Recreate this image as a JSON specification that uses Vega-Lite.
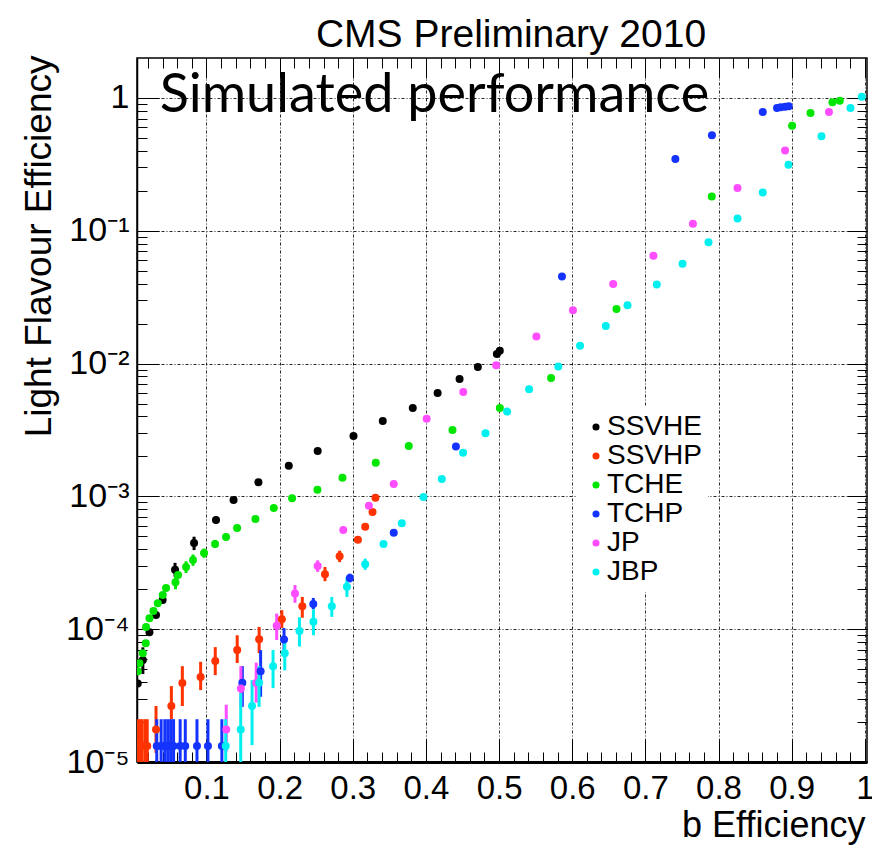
{
  "$schema": "https://vega.github.io/schema/vega-lite/v6.json",
  "width": 730,
  "height": 704,
  "autosize": {"type": "none"},
  "padding": {"left": 137, "top": 58, "right": 5, "bottom": 83},
  "background": "white",
  "title": {"text": "CMS Preliminary 2010", "font": "Liberation Sans", "fontSize": 39, "fontWeight": "normal", "anchor": "middle", "dx": 9, "baseline": "alphabetic", "offset": -31, "color": "#000"},
  "config": {"view": {"stroke": "#000", "strokeWidth": 1.5}},
  "data": {"values": [
    {"s":"SSVHE","x":0.006,"y":3.9e-5},
    {"s":"SSVHE","x":0.013,"y":5.85e-5,"lo":4.6e-5,"hi":7.3e-5},
    {"s":"SSVHE","x":0.022,"y":9.5e-5},
    {"s":"SSVHE","x":0.031,"y":1.28e-4},
    {"s":"SSVHE","x":0.040,"y":1.66e-4},
    {"s":"SSVHE","x":0.057,"y":2.8e-4,"lo":2.48e-4,"hi":3.16e-4},
    {"s":"SSVHE","x":0.083,"y":4.45e-4,"lo":3.94e-4,"hi":4.97e-4},
    {"s":"SSVHE","x":0.113,"y":6.64e-4},
    {"s":"SSVHE","x":0.137,"y":9.4e-4},
    {"s":"SSVHE","x":0.171,"y":1.28e-3},
    {"s":"SSVHE","x":0.2125,"y":1.7e-3},
    {"s":"SSVHE","x":0.252,"y":2.2e-3},
    {"s":"SSVHE","x":0.301,"y":2.85e-3},
    {"s":"SSVHE","x":0.341,"y":3.7e-3},
    {"s":"SSVHE","x":0.382,"y":4.63e-3},
    {"s":"SSVHE","x":0.416,"y":6.0e-3},
    {"s":"SSVHE","x":0.446,"y":7.66e-3},
    {"s":"SSVHE","x":0.471,"y":9.43e-3},
    {"s":"SSVHE","x":0.497,"y":1.18e-2},
    {"s":"SSVHE","x":0.501,"y":1.25e-2},
    {"s":"SSVHP","x":0.006,"y":1.32e-5,"lo":1e-5,"hi":2.1e-5},
    {"s":"SSVHP","x":0.009,"y":1.32e-5,"lo":1e-5,"hi":2.1e-5},
    {"s":"SSVHP","x":0.012,"y":1.32e-5,"lo":1e-5,"hi":2.1e-5},
    {"s":"SSVHP","x":0.016,"y":1.32e-5,"lo":1e-5,"hi":2.1e-5},
    {"s":"SSVHP","x":0.019,"y":1.32e-5,"lo":1e-5,"hi":2.1e-5},
    {"s":"SSVHP","x":0.031,"y":1.76e-5,"lo":1.17e-5,"hi":2.64e-5},
    {"s":"SSVHP","x":0.052,"y":2.64e-5,"lo":2.09e-5,"hi":3.73e-5},
    {"s":"SSVHP","x":0.067,"y":3.93e-5,"lo":2.64e-5,"hi":5.27e-5},
    {"s":"SSVHP","x":0.092,"y":4.36e-5,"lo":3.48e-5,"hi":5.68e-5},
    {"s":"SSVHP","x":0.112,"y":5.75e-5,"lo":4.51e-5,"hi":7.33e-5},
    {"s":"SSVHP","x":0.142,"y":6.96e-5,"lo":5.56e-5,"hi":9.0e-5},
    {"s":"SSVHP","x":0.172,"y":8.41e-5,"lo":6.6e-5,"hi":1.04e-4},
    {"s":"SSVHP","x":0.203,"y":1.19e-4,"lo":1.02e-4,"hi":1.39e-4},
    {"s":"SSVHP","x":0.231,"y":1.49e-4,"lo":1.22e-4,"hi":1.75e-4},
    {"s":"SSVHP","x":0.262,"y":2.59e-4,"lo":2.3e-4,"hi":2.94e-4},
    {"s":"SSVHP","x":0.282,"y":3.54e-4,"lo":3.2e-4,"hi":3.9e-4},
    {"s":"SSVHP","x":0.307,"y":4.72e-4},
    {"s":"SSVHP","x":0.317,"y":5.91e-4},
    {"s":"SSVHP","x":0.327,"y":7.63e-4},
    {"s":"SSVHP","x":0.331,"y":9.77e-4},
    {"s":"TCHE","x":0.006,"y":4.83e-5},
    {"s":"TCHE","x":0.0083,"y":5.55e-5},
    {"s":"TCHE","x":0.0129,"y":6.6e-5},
    {"s":"TCHE","x":0.017,"y":7.85e-5},
    {"s":"TCHE","x":0.0174,"y":1.04e-4},
    {"s":"TCHE","x":0.022,"y":1.21e-4},
    {"s":"TCHE","x":0.0275,"y":1.37e-4},
    {"s":"TCHE","x":0.0334,"y":1.57e-4},
    {"s":"TCHE","x":0.0402,"y":1.81e-4},
    {"s":"TCHE","x":0.0447,"y":2.04e-4},
    {"s":"TCHE","x":0.0576,"y":2.26e-4,"lo":2.0e-4,"hi":2.5e-4},
    {"s":"TCHE","x":0.0611,"y":2.56e-4},
    {"s":"TCHE","x":0.0721,"y":2.94e-4,"lo":2.65e-4,"hi":3.25e-4},
    {"s":"TCHE","x":0.0816,"y":3.32e-4,"lo":3.0e-4,"hi":3.65e-4},
    {"s":"TCHE","x":0.0967,"y":3.75e-4,"lo":3.45e-4,"hi":4.05e-4},
    {"s":"TCHE","x":0.1117,"y":4.38e-4,"lo":4.1e-4,"hi":4.7e-4},
    {"s":"TCHE","x":0.1267,"y":4.94e-4},
    {"s":"TCHE","x":0.1418,"y":5.78e-4},
    {"s":"TCHE","x":0.1669,"y":6.76e-4},
    {"s":"TCHE","x":0.192,"y":8.18e-4},
    {"s":"TCHE","x":0.217,"y":9.68e-4},
    {"s":"TCHE","x":0.2517,"y":1.12e-3},
    {"s":"TCHE","x":0.2859,"y":1.38e-3},
    {"s":"TCHE","x":0.3314,"y":1.79e-3},
    {"s":"TCHE","x":0.3765,"y":2.4e-3},
    {"s":"TCHE","x":0.4363,"y":3.16e-3},
    {"s":"TCHE","x":0.501,"y":4.63e-3},
    {"s":"TCHE","x":0.5711,"y":7.8e-3},
    {"s":"TCHE","x":0.6605,"y":2.58e-2},
    {"s":"TCHE","x":0.7908,"y":0.181},
    {"s":"TCHE","x":0.9006,"y":0.618},
    {"s":"TCHE","x":0.9258,"y":0.77},
    {"s":"TCHE","x":0.9558,"y":0.927},
    {"s":"TCHE","x":0.9658,"y":0.955},
    {"s":"TCHP","x":0.032,"y":1.32e-5,"lo":1e-5,"hi":2.1e-5},
    {"s":"TCHP","x":0.038,"y":1.32e-5,"lo":1e-5,"hi":2.1e-5},
    {"s":"TCHP","x":0.043,"y":1.32e-5,"lo":1e-5,"hi":2.1e-5},
    {"s":"TCHP","x":0.047,"y":1.32e-5,"lo":1e-5,"hi":2.1e-5},
    {"s":"TCHP","x":0.051,"y":1.32e-5,"lo":1e-5,"hi":2.1e-5},
    {"s":"TCHP","x":0.055,"y":1.32e-5,"lo":1e-5,"hi":2.1e-5},
    {"s":"TCHP","x":0.064,"y":1.32e-5,"lo":1e-5,"hi":2.1e-5},
    {"s":"TCHP","x":0.071,"y":1.32e-5,"lo":1e-5,"hi":2.1e-5},
    {"s":"TCHP","x":0.087,"y":1.32e-5,"lo":1e-5,"hi":2.1e-5},
    {"s":"TCHP","x":0.102,"y":1.32e-5,"lo":1e-5,"hi":2.1e-5},
    {"s":"TCHP","x":0.121,"y":1.32e-5,"lo":1e-5,"hi":2.1e-5},
    {"s":"TCHP","x":0.149,"y":3.95e-5,"lo":2.6e-5,"hi":5.27e-5},
    {"s":"TCHP","x":0.174,"y":4.83e-5,"lo":3.1e-5,"hi":6.96e-5},
    {"s":"TCHP","x":0.206,"y":8.38e-5,"lo":6.96e-5,"hi":1.02e-4},
    {"s":"TCHP","x":0.246,"y":1.55e-4,"lo":1.41e-4,"hi":1.72e-4},
    {"s":"TCHP","x":0.296,"y":2.43e-4,"lo":2.25e-4,"hi":2.62e-4},
    {"s":"TCHP","x":0.356,"y":5.33e-4},
    {"s":"TCHP","x":0.441,"y":2.37e-3},
    {"s":"TCHP","x":0.586,"y":4.53e-2},
    {"s":"TCHP","x":0.741,"y":0.347},
    {"s":"TCHP","x":0.791,"y":0.523},
    {"s":"TCHP","x":0.8605,"y":0.784},
    {"s":"TCHP","x":0.88,"y":0.841},
    {"s":"TCHP","x":0.885,"y":0.853},
    {"s":"TCHP","x":0.891,"y":0.86},
    {"s":"TCHP","x":0.896,"y":0.868},
    {"s":"JP","x":0.127,"y":1.76e-5,"lo":1.2e-5,"hi":2.7e-5},
    {"s":"JP","x":0.147,"y":3.58e-5,"lo":2.6e-5,"hi":5.27e-5},
    {"s":"JP","x":0.168,"y":3.93e-5,"lo":2.8e-5,"hi":5.6e-5},
    {"s":"JP","x":0.196,"y":1.06e-4,"lo":8.3e-5,"hi":1.31e-4},
    {"s":"JP","x":0.221,"y":1.86e-4,"lo":1.58e-4,"hi":2.15e-4},
    {"s":"JP","x":0.252,"y":2.99e-4,"lo":2.7e-4,"hi":3.3e-4},
    {"s":"JP","x":0.287,"y":5.58e-4},
    {"s":"JP","x":0.322,"y":8.51e-4},
    {"s":"JP","x":0.356,"y":1.24e-3},
    {"s":"JP","x":0.401,"y":3.85e-3},
    {"s":"JP","x":0.451,"y":6.12e-3},
    {"s":"JP","x":0.496,"y":9.72e-3},
    {"s":"JP","x":0.551,"y":1.6e-2},
    {"s":"JP","x":0.601,"y":2.52e-2},
    {"s":"JP","x":0.656,"y":3.97e-2},
    {"s":"JP","x":0.711,"y":6.49e-2},
    {"s":"JP","x":0.765,"y":0.113},
    {"s":"JP","x":0.826,"y":0.21},
    {"s":"JP","x":0.891,"y":0.403},
    {"s":"JP","x":0.951,"y":0.784},
    {"s":"JBP","x":0.1263,"y":1.32e-5,"lo":1e-5,"hi":2.1e-5},
    {"s":"JBP","x":0.1468,"y":1.76e-5,"lo":1e-5,"hi":3.3e-5},
    {"s":"JBP","x":0.1623,"y":2.64e-5,"lo":1.34e-5,"hi":4.13e-5},
    {"s":"JBP","x":0.1719,"y":3.95e-5,"lo":2.6e-5,"hi":5.27e-5},
    {"s":"JBP","x":0.191,"y":5.27e-5,"lo":3.6e-5,"hi":6.96e-5},
    {"s":"JBP","x":0.207,"y":6.58e-5,"lo":4.9e-5,"hi":8.6e-5},
    {"s":"JBP","x":0.2271,"y":9.68e-5,"lo":7.4e-5,"hi":1.23e-4},
    {"s":"JBP","x":0.2462,"y":1.14e-4,"lo":9.0e-5,"hi":1.41e-4},
    {"s":"JBP","x":0.2713,"y":1.49e-4,"lo":1.24e-4,"hi":1.75e-4},
    {"s":"JBP","x":0.292,"y":2.09e-4,"lo":1.75e-4,"hi":2.45e-4},
    {"s":"JBP","x":0.317,"y":3.08e-4,"lo":2.8e-4,"hi":3.4e-4},
    {"s":"JBP","x":0.342,"y":4.38e-4},
    {"s":"JBP","x":0.367,"y":6.27e-4},
    {"s":"JBP","x":0.3966,"y":9.9e-4},
    {"s":"JBP","x":0.4217,"y":1.35e-3},
    {"s":"JBP","x":0.4508,"y":2.13e-3},
    {"s":"JBP","x":0.4814,"y":2.99e-3},
    {"s":"JBP","x":0.511,"y":4.35e-3},
    {"s":"JBP","x":0.541,"y":6.41e-3},
    {"s":"JBP","x":0.581,"y":9.52e-3},
    {"s":"JBP","x":0.6107,"y":1.36e-2},
    {"s":"JBP","x":0.6459,"y":1.92e-2},
    {"s":"JBP","x":0.6756,"y":2.75e-2},
    {"s":"JBP","x":0.7156,"y":3.94e-2},
    {"s":"JBP","x":0.7508,"y":5.64e-2},
    {"s":"JBP","x":0.7863,"y":8.19e-2},
    {"s":"JBP","x":0.826,"y":0.124},
    {"s":"JBP","x":0.8605,"y":0.194},
    {"s":"JBP","x":0.8957,"y":0.314},
    {"s":"JBP","x":0.9408,"y":0.514},
    {"s":"JBP","x":0.9804,"y":0.841},
    {"s":"JBP","x":0.9959,"y":1.02}
  ]},
  "layer": [
    {
      "transform": [{"filter": "isValid(datum.lo)"}],
      "mark": {"type": "rule", "strokeWidth": 3, "clip": true},
      "encoding": {
        "x": {"field": "x", "type": "quantitative", "scale": {"domain": [0.005, 1.003], "nice": false, "zero": false},
          "axis": {"orient": "bottom", "values": [0.02,0.04,0.06,0.08,0.12,0.14,0.16,0.18,0.22,0.24,0.26,0.28,0.32,0.34,0.36,0.38,0.42,0.44,0.46,0.48,0.52,0.54,0.56,0.58,0.62,0.64,0.66,0.68,0.72,0.74,0.76,0.78,0.82,0.84,0.86,0.88,0.92,0.94,0.96,0.98],
            "labels": false, "domain": false, "grid": false, "tickSize": -10, "tickColor": "#000", "tickWidth": 1, "title": null}},
        "y": {"field": "lo", "type": "quantitative", "scale": {"type": "log", "domain": [1e-5, 2], "nice": false},
          "axis": {"orient": "left", "values": [2e-5,3e-5,4e-5,5e-5,6e-5,7e-5,8e-5,9e-5,2e-4,3e-4,4e-4,5e-4,6e-4,7e-4,8e-4,9e-4,2e-3,3e-3,4e-3,5e-3,6e-3,7e-3,8e-3,9e-3,0.02,0.03,0.04,0.05,0.06,0.07,0.08,0.09,0.2,0.3,0.4,0.5,0.6,0.7,0.8,0.9],
            "labels": false, "domain": false, "grid": false, "tickSize": -10, "tickColor": "#000", "tickWidth": 1, "title": null}},
        "y2": {"field": "hi"},
        "stroke": {"condition": [
          {"test": "datum.s === 'SSVHE'", "value": "#000000"},
          {"test": "datum.s === 'SSVHP'", "value": "#ff3300"},
          {"test": "datum.s === 'TCHE'", "value": "#00e600"},
          {"test": "datum.s === 'TCHP'", "value": "#1433ff"},
          {"test": "datum.s === 'JP'", "value": "#ff4dff"}
        ], "value": "#00f0f0"}
      }
    },
    {
      "mark": {"type": "circle", "size": 64, "opacity": 1, "clip": true},
      "encoding": {
        "x": {"field": "x", "type": "quantitative",
          "axis": {"orient": "bottom", "values": [0.1,0.2,0.3,0.4,0.5,0.6,0.7,0.8,0.9,1], "format": "~g",
            "labelFont": "Liberation Sans", "labelFontSize": 33, "labelColor": "#000", "labelPadding": 32, "labelFlush": false, "labelOverlap": false,
            "tickSize": -22, "tickColor": "#000", "tickWidth": 1,
            "domain": true, "domainColor": "#000", "domainWidth": 3,
            "grid": true, "gridColor": "#000", "gridDash": [3,2,1,2], "gridOpacity": 0.85, "gridWidth": 1,
            "title": "b Efficiency", "titleFont": "Liberation Sans", "titleFontSize": 36, "titleFontWeight": "normal", "titleColor": "#000",
            "titleAlign": "right", "titleBaseline": "alphabetic", "titleX": 728, "titleY": 74}},
        "y": {"field": "y", "type": "quantitative",
          "axis": {"orient": "left", "values": [1e-5,1e-4,1e-3,1e-2,0.1,1],
            "labelExpr": "datum.value > 0.5 ? '1' : datum.value > 0.05 ? '10⁻¹' : datum.value > 0.005 ? '10⁻²' : datum.value > 0.0005 ? '10⁻³' : datum.value > 0.00005 ? '10⁻⁴' : '10⁻⁵'",
            "labelFont": "Liberation Sans", "labelFontSize": 34, "labelColor": "#000", "labelPadding": 30, "labelFlush": false, "labelOverlap": false,
            "tickSize": -22, "tickColor": "#000", "tickWidth": 1,
            "domain": true, "domainColor": "#000", "domainWidth": 1.5,
            "grid": true, "gridColor": "#000", "gridDash": [3,2,1,2], "gridOpacity": 0.85, "gridWidth": 1,
            "title": "Light Flavour Efficiency", "titleFont": "Liberation Sans", "titleFontSize": 37, "titleFontWeight": "normal", "titleColor": "#000",
            "titleAngle": -90, "titleAlign": "right", "titleBaseline": "alphabetic", "titleX": -87, "titleY": -3}},
        "color": {"field": "s", "type": "nominal",
          "scale": {"domain": ["SSVHE","SSVHP","TCHE","TCHP","JP","JBP"], "range": ["#000000","#ff3300","#00e600","#1433ff","#ff4dff","#00f0f0"]},
          "legend": {"orient": "none", "legendX": 439, "legendY": 349, "title": null, "fillColor": "white", "padding": 6,
            "labelFont": "Liberation Sans", "labelFontSize": 28, "labelColor": "#000", "labelOffset": -3, "rowPadding": 1,
            "symbolType": "circle", "symbolSize": 50,
            "labelExpr": "datum.label + '\u00a0\u00a0\u00a0\u00a0\u00a0\u00a0\u00a0\u00a0'"}}
      }
    },
    {
      "mark": {"type": "point", "opacity": 0},
      "encoding": {
        "x": {"field": "x", "type": "quantitative",
          "axis": {"orient": "top", "values": [0.1,0.2,0.3,0.4,0.5,0.6,0.7,0.8,0.9,1], "labels": false, "domain": false, "grid": false,
            "tickSize": -20, "tickColor": "#000", "tickWidth": 1, "title": null}},
        "y": {"field": "y", "type": "quantitative",
          "axis": {"orient": "right", "values": [1e-5,1e-4,1e-3,1e-2,0.1,1], "labels": false, "domain": false, "grid": false,
            "tickSize": -20, "tickColor": "#000", "tickWidth": 1, "title": null}}
      }
    },
    {
      "mark": {"type": "point", "opacity": 0},
      "encoding": {
        "x": {"field": "x", "type": "quantitative",
          "axis": {"orient": "top", "values": [0.02,0.04,0.06,0.08,0.12,0.14,0.16,0.18,0.22,0.24,0.26,0.28,0.32,0.34,0.36,0.38,0.42,0.44,0.46,0.48,0.52,0.54,0.56,0.58,0.62,0.64,0.66,0.68,0.72,0.74,0.76,0.78,0.82,0.84,0.86,0.88,0.92,0.94,0.96,0.98],
            "labels": false, "domain": false, "grid": false, "tickSize": -10, "tickColor": "#000", "tickWidth": 1, "title": null}},
        "y": {"field": "y", "type": "quantitative",
          "axis": {"orient": "right", "values": [2e-5,3e-5,4e-5,5e-5,6e-5,7e-5,8e-5,9e-5,2e-4,3e-4,4e-4,5e-4,6e-4,7e-4,8e-4,9e-4,2e-3,3e-3,4e-3,5e-3,6e-3,7e-3,8e-3,9e-3,0.02,0.03,0.04,0.05,0.06,0.07,0.08,0.09,0.2,0.3,0.4,0.5,0.6,0.7,0.8,0.9],
            "labels": false, "domain": false, "grid": false, "tickSize": -10, "tickColor": "#000", "tickWidth": 1, "title": null}}
      }
    },
    {
      "data": {"values": [{"label": "Simulated performance"}]},
      "mark": {"type": "text", "font": "Lato", "fontSize": 54, "align": "left", "baseline": "alphabetic", "color": "#000"},
      "encoding": {
        "x": {"datum": 0.036, "type": "quantitative", "axis": null},
        "y": {"datum": 0.788, "type": "quantitative", "axis": null},
        "text": {"field": "label"}
      }
    }
  ],
  "resolve": {"axis": {"x": "independent", "y": "independent"}}
}
